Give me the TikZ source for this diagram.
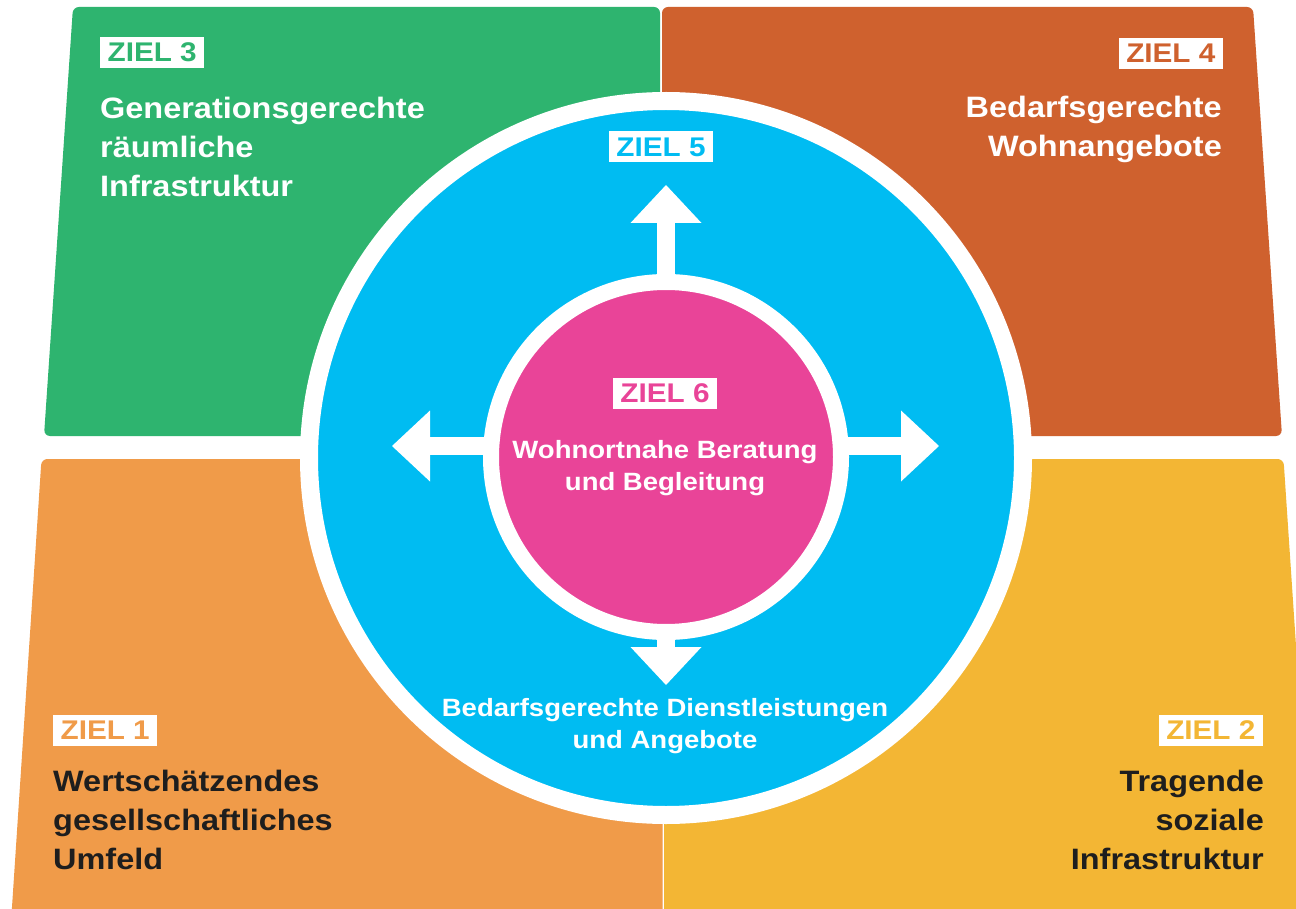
\documentclass[tikz,border=0pt]{standalone}
\usepackage{fontspec}
\setmainfont{Liberation Sans}[FakeStretch=1.1]
\usetikzlibrary{arrows.meta}
\definecolor{zgreen}{RGB}{46,180,111}
\definecolor{zrust}{RGB}{207,97,46}
\definecolor{zorange}{RGB}{240,155,73}
\definecolor{zyellow}{RGB}{243,182,52}
\definecolor{zcyan}{RGB}{0,188,242}
\definecolor{zpink}{RGB}{233,68,152}
\definecolor{zdark}{RGB}{30,30,30}
\begin{document}
\begin{tikzpicture}[x=1pt,y=-1pt,
    ziel/.style={fill=white,inner sep=0pt,minimum width=104pt,minimum height=31pt,font=\fontsize{27}{27}\selectfont\bfseries},
    zieltext/.style={inner sep=0pt,font=\fontsize{29.5}{39}\selectfont\bfseries},
    ringtext/.style={inner sep=0pt,text=white,align=center,font=\fontsize{25}{32.5}\selectfont\bfseries},
    pfeil/.style={white,line width=18pt,-{Triangle[length=38pt,width=71pt,line width=0pt]}}]
            \useasboundingbox (0,0) rectangle (1296,909);
            \fill[white] (0,0) rectangle (1296,909);
            \fill[zgreen,rounded corners=6pt] (73,7) -- (660,7) -- (660,436) -- (44,436) -- cycle;
            \fill[zrust,rounded corners=6pt] (662,7) -- (1253,7) -- (1282,436) -- (662,436) -- cycle;
            \fill[zorange,rounded corners=6pt] (41.5,459) -- (662.5,459) -- (662.5,930) -- (10.5,930) -- cycle;
            \fill[zyellow,rounded corners=6pt] (664,459) -- (1283.5,459) -- (1315,930) -- (664,930) -- cycle;

            \node[circle,fill=zcyan,draw=white,line width=18pt,minimum size=714pt,inner sep=0pt] (ring5) at (666,458) {};
            \coordinate (hub) at (666,446);
            \coordinate (tipN) at (666,185);
            \coordinate (tipW) at (392,446);
            \coordinate (tipE) at (939,446);
            \coordinate (tipS) at (666,685);
            \foreach \t in {tipN,tipW,tipE,tipS}
                \draw[pfeil] (hub) -- (\t);
            \node[circle,fill=zpink,draw=white,line width=16pt,minimum size=350pt,inner sep=0pt] (ring6) at (666,457) {};

            \node[ziel,text=zgreen,anchor=west] (z3) at (100,52.5) {ZIEL 3};
            \node[zieltext,text=white,align=left,anchor=north west] (t3) at (100,97) {Generationsgerechte\\räumliche\\Infrastruktur};
            \node[ziel,text=zrust,anchor=east] (z4) at (1223,53.5) {ZIEL 4};
            \node[zieltext,text=white,align=right,anchor=north east] (t4) at (1222,96) {Bedarfsgerechte\\Wohnangebote};
            \node[ziel,text=zcyan] (z5) at (661,147) {ZIEL 5};
            \node[ziel,text=zpink] (z6) at (665,393.5) {ZIEL 6};
            \node[ringtext,anchor=north] (t6) at (665,440) {Wohnortnahe Beratung\\und Begleitung};
            \node[ringtext,anchor=north] (t5) at (665,698) {Bedarfsgerechte Dienstleistungen\\und Angebote};
            \node[ziel,text=zorange,anchor=west] (z1) at (53,730) {ZIEL 1};
            \node[zieltext,text=zdark,align=left,anchor=north west] (t1) at (53,770) {Wertschätzendes\\gesellschaftliches\\Umfeld};
            \node[ziel,text=zyellow,anchor=east] (z2) at (1263,730.5) {ZIEL 2};
            \node[zieltext,text=zdark,align=right,anchor=north east] (t2) at (1264,770) {Tragende\\soziale\\Infrastruktur};
        \end{tikzpicture}
\end{document}
